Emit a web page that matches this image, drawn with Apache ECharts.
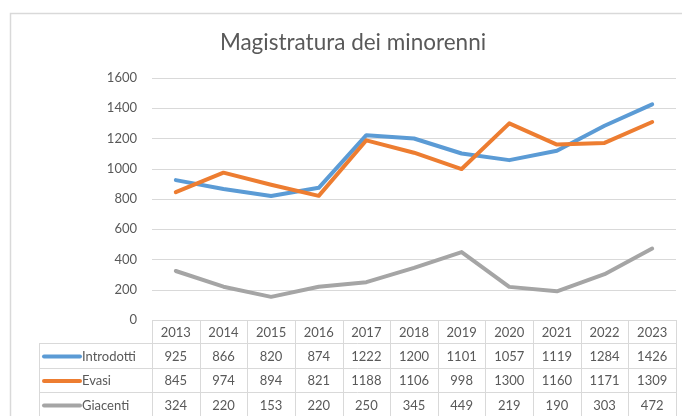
<!DOCTYPE html>
<html>
<head>
<meta charset="utf-8">
<script src="https://cdn.jsdelivr.net/npm/echarts@6/dist/echarts.min.js"></script>
<style>
  html, body { margin: 0; padding: 0; background: #fff; }
  #chart { width: 682px; height: 416px; }
</style>
</head>
<body>
<div id="chart"></div>
<script>
// Anni e serie della Magistratura dei minorenni
const years = ['2013', '2014', '2015', '2016', '2017', '2018', '2019', '2020', '2021', '2022', '2023'];
const introdotti = [925, 866, 820, 874, 1222, 1200, 1101, 1057, 1119, 1284, 1426];
const evasi = [845, 974, 894, 821, 1188, 1106, 998, 1300, 1160, 1171, 1309];
const giacenti = [324, 220, 153, 220, 250, 345, 449, 219, 190, 303, 472];
const seriesNames = ['Introdotti', 'Evasi', 'Giacenti'];
const seriesColors = ['#5B9BD5', '#ED7D31', '#A5A5A5'];
const titleText = 'Magistratura dei minorenni';

const FONT = 'Lato, "Liberation Sans", sans-serif';
const TEXT = '#595959';
const RULE = '#d9d9d9';

const chart = echarts.init(document.getElementById('chart'), null, { renderer: 'canvas' });

const grid = { left: 152, right: 6, top: 78, bottom: 96 };
const seriesData = [introdotti, evasi, giacenti];

chart.setOption({
  animation: false,
  backgroundColor: '#fff',
  grid: grid,
  xAxis: {
    type: 'category',
    data: years,
    boundaryGap: true,
    axisLine: { show: false },
    axisTick: { show: false },
    axisLabel: { show: false }
  },
  yAxis: {
    type: 'value',
    min: 0,
    max: 1600,
    interval: 200,
    axisLine: { show: false },
    axisTick: { show: false },
    axisLabel: { color: TEXT, fontSize: 13, fontFamily: FONT, margin: 15, formatter: v => String(v) },
    splitLine: { lineStyle: { color: RULE, width: 1 } }
  },
  series: seriesData.map((d, i) => ({
    name: seriesNames[i],
    type: 'line',
    data: d,
    symbol: 'none',
    lineStyle: { color: seriesColors[i], width: 4, cap: 'round', join: 'round' },
    z: 3
  }))
});

// Tabella dati sotto il grafico
const colW = chart.convertToPixel({ xAxisIndex: 0 }, 1) - chart.convertToPixel({ xAxisIndex: 0 }, 0);
const tableLeft = 39;
const colStart = grid.left;
const colEnd = colStart + colW * years.length;
const rowEdges = [320, 343, 368, 392, 417];
const elements = [];

// bordo esterno dell'area del grafico
elements.push({
  type: 'rect',
  shape: { x: 10.5, y: 13.5, width: 720, height: 440 },
  style: { fill: null, stroke: RULE, lineWidth: 1.5 },
  silent: true, z: 0
});

elements.push({
  type: 'text',
  x: 353, y: 43,
  style: { text: titleText, fill: TEXT, font: '22.5px ' + FONT, textAlign: 'center', textVerticalAlign: 'middle' },
  z: 5
});

// linee orizzontali
rowEdges.forEach((y, r) => {
  const x1 = r === 0 ? colStart : tableLeft;
  elements.push({
    type: 'line',
    shape: { x1: x1, y1: y + 0.5, x2: colEnd, y2: y + 0.5 },
    style: { stroke: RULE, lineWidth: 1 }, z: 1
  });
});
// linee verticali
elements.push({
  type: 'line',
  shape: { x1: tableLeft + 0.5, y1: rowEdges[1], x2: tableLeft + 0.5, y2: 417 },
  style: { stroke: RULE, lineWidth: 1 }, z: 1
});
for (let k = 0; k <= years.length; k++) {
  const x = Math.round(colStart + colW * k) + 0.5;
  elements.push({
    type: 'line',
    shape: { x1: x, y1: rowEdges[0], x2: x, y2: 417 },
    style: { stroke: RULE, lineWidth: 1 }, z: 1
  });
}

// intestazione anni
years.forEach((yr, i) => {
  elements.push({
    type: 'text',
    x: chart.convertToPixel({ xAxisIndex: 0 }, i),
    y: (rowEdges[0] + rowEdges[1]) / 2 + 1,
    style: { text: yr, fill: TEXT, font: '13px ' + FONT, textAlign: 'center', textVerticalAlign: 'middle' },
    z: 4
  });
});

// righe delle serie con chiave di legenda
seriesData.forEach((d, r) => {
  const cy = (rowEdges[r + 1] + rowEdges[r + 2]) / 2 + 1;
  elements.push({
    type: 'line',
    shape: { x1: 44, y1: cy, x2: 80, y2: cy },
    style: { stroke: seriesColors[r], lineWidth: 4, lineCap: 'round' }, z: 4
  });
  elements.push({
    type: 'text',
    x: 82, y: cy,
    style: { text: seriesNames[r], fill: TEXT, font: '13px ' + FONT, textAlign: 'left', textVerticalAlign: 'middle' },
    z: 4
  });
  d.forEach((v, i) => {
    elements.push({
      type: 'text',
      x: chart.convertToPixel({ xAxisIndex: 0 }, i),
      y: cy,
      style: { text: String(v), fill: TEXT, font: '13px ' + FONT, textAlign: 'center', textVerticalAlign: 'middle' },
      z: 4
    });
  });
});

chart.setOption({ graphic: { elements: elements } });
</script>
</body>
</html>
